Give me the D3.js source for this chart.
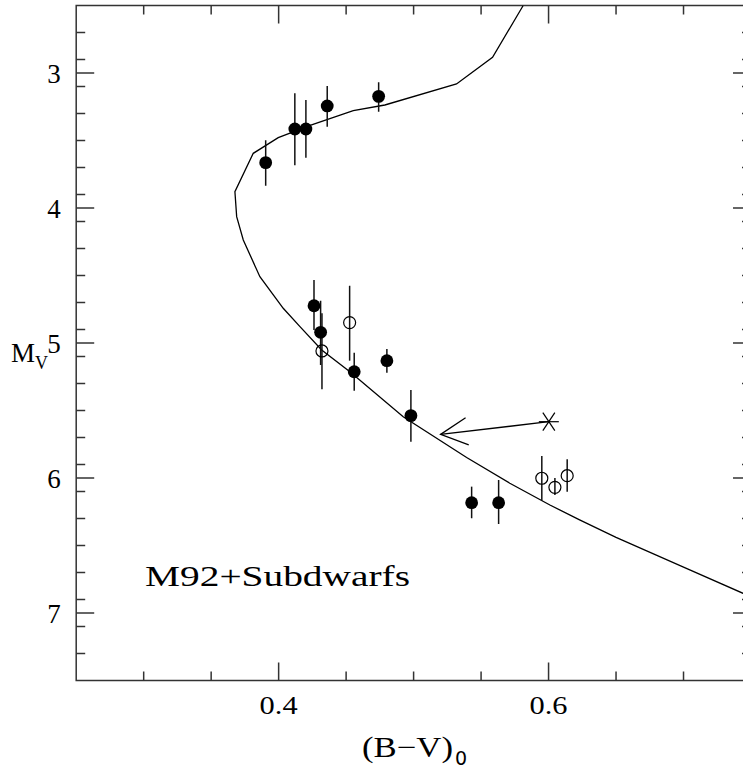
<!DOCTYPE html>
<html><head><meta charset="utf-8">
<script src="https://cdn.jsdelivr.net/npm/d3@7"></script>
<style>html,body{margin:0;padding:0;background:#fff;overflow:hidden}svg{display:block}</style>
</head><body>
<script>
// Isochrone (fiducial) line
const isoBV = [0.5812,0.5585,0.5318,0.4787,0.4553,0.4244,0.3997,0.3812,0.3676,0.3689,0.3738,0.3861,0.4034,0.4158,0.4319,0.4528,0.4923,0.5393,0.5713,0.601,0.623,0.65,0.70,0.7441,0.752];
const isoMV = [2.5,2.884,3.081,3.237,3.279,3.385,3.479,3.595,3.879,4.064,4.237,4.509,4.743,4.879,5.052,5.213,5.546,5.848,6.039,6.2,6.31,6.44,6.66,6.854,6.888];
// Filled points
const filledBV  = [0.3904,0.412,0.4202,0.436,0.4741,0.4262,0.4311,0.456,0.4802,0.498,0.543,0.563];
const filledMV  = [3.664,3.415,3.415,3.244,3.173,4.724,4.921,5.213,5.131,5.538,6.183,6.183];
const filledTop = [3.498,3.15,3.2,3.096,3.069,4.533,4.687,5.072,5.044,5.348,6.064,6.015];
const filledBot = [3.835,3.684,3.627,3.398,3.287,4.904,5.163,5.353,5.22,5.731,6.299,6.341];
// Open points
const openBV  = [0.4321,0.4526,0.595,0.6047,0.6138];
const openMV  = [5.059,4.849,6.002,6.069,5.983];
const openTop = [4.78,4.576,5.837,6.0,5.861];
const openBot = [5.343,5.131,6.168,6.126,6.101];
// Asterisk and arrow
const starBV = [0.6002], starMV = [5.583];
const arrowFrom = [0.6002,5.583], arrowTo = [0.52,5.677];
// Axes
const xDomain = [0.25,0.75], yDomain = [2.5,7.5];
const xMajor = [0.4,0.6], xMajorLabels = ["0.4","0.6"];
const yMajor = [3,4,5,6,7], yMajorLabels = ["3","4","5","6","7"];
const xMinor = [0.3,0.35,0.45,0.5,0.55,0.65,0.7];
const yMinorStep = 0.2;
const annotation = {text:"M92+Subdwarfs", bv:0.301, mv:6.80};

const W=743,H=770;
const L=76.2,R=751,T=5.5,B=680.5;
const svg=d3.select("body").append("svg").attr("width",W).attr("height",H);
const x=d3.scaleLinear().domain(xDomain).range([L,R]);
const y=d3.scaleLinear().domain(yDomain).range([T,B]);
const ink="#000", axisCol="#333";
const font="'Liberation Serif','DejaVu Serif',serif";

svg.append("defs").append("clipPath").attr("id","clip").append("rect")
  .attr("x",L).attr("y",T).attr("width",R-L).attr("height",B-T);

// frame
svg.append("rect").attr("x",L).attr("y",T).attr("width",R-L).attr("height",B-T)
  .attr("fill","none").attr("stroke",axisCol).attr("stroke-width",1.5);

const yMinor=d3.range(yDomain[0],yDomain[1]+1e-9,yMinorStep).map(v=>+v.toFixed(2)).filter(v=>!yMajor.includes(v)&&v>yDomain[0]&&v<yDomain[1]);
const tk=svg.append("g").attr("stroke",axisCol).attr("stroke-width",1.5);
const minL=9,majL=18;
xMinor.forEach(v=>{tk.append("line").attr("x1",x(v)).attr("x2",x(v)).attr("y1",B).attr("y2",B-minL);
  tk.append("line").attr("x1",x(v)).attr("x2",x(v)).attr("y1",T).attr("y2",T+minL);});
xMajor.forEach(v=>{tk.append("line").attr("x1",x(v)).attr("x2",x(v)).attr("y1",B).attr("y2",B-majL);
  tk.append("line").attr("x1",x(v)).attr("x2",x(v)).attr("y1",T).attr("y2",T+majL);});
yMinor.forEach(v=>{tk.append("line").attr("y1",y(v)).attr("y2",y(v)).attr("x1",L).attr("x2",L+minL);
  tk.append("line").attr("y1",y(v)).attr("y2",y(v)).attr("x1",R).attr("x2",R-minL);});
yMajor.forEach(v=>{tk.append("line").attr("y1",y(v)).attr("y2",y(v)).attr("x1",L).attr("x2",L+majL);
  tk.append("line").attr("y1",y(v)).attr("y2",y(v)).attr("x1",R).attr("x2",R-majL);});

// tick labels
xMajor.forEach((v,i)=>svg.append("text").attr("x",x(v)-19).attr("y",713.5)
  .attr("font-family",font).attr("font-size",26).attr("fill",ink)
  .attr("textLength",38).attr("lengthAdjust","spacingAndGlyphs").text(xMajorLabels[i]));
yMajor.forEach((v,i)=>svg.append("text").attr("x",54).attr("y",y(v)+9.5).attr("text-anchor","middle")
  .attr("font-family",font).attr("font-size",27).attr("fill",ink).text(yMajorLabels[i]));

// axis titles
svg.append("text").attr("x",362).attr("y",757).attr("font-family",font).attr("font-size",29).attr("fill",ink)
  .attr("textLength",91).attr("lengthAdjust","spacingAndGlyphs").text("(B\u2212V)");
svg.append("text").attr("x",455).attr("y",765).attr("font-family","'DejaVu Sans',sans-serif").attr("font-size",19).attr("fill",ink).text("0");
const yt=svg.append("text").attr("x",11).attr("y",362).attr("font-family",font).attr("font-size",27).attr("fill",ink);
yt.append("tspan").text("M");
yt.append("tspan").attr("dy",7).attr("font-size",18).text("V");

const plot=svg.append("g").attr("clip-path","url(#clip)");
// isochrone
plot.append("path").datum(isoBV.map((v,i)=>[v,isoMV[i]]))
  .attr("d",d3.line().x(d=>x(d[0])).y(d=>y(d[1])))
  .attr("fill","none").attr("stroke",ink).attr("stroke-width",1.3);

// error bars
const bars=plot.append("g").attr("stroke","#111").attr("stroke-width",1.5);
filledBV.forEach((v,i)=>bars.append("line").attr("x1",x(v)).attr("x2",x(v)).attr("y1",y(filledTop[i])).attr("y2",y(filledBot[i])));
openBV.forEach((v,i)=>bars.append("line").attr("x1",x(v)).attr("x2",x(v)).attr("y1",y(openTop[i])).attr("y2",y(openBot[i])));

// filled circles
plot.append("g").selectAll("circle").data(filledBV).join("circle")
  .attr("cx",d=>x(d)).attr("cy",(d,i)=>y(filledMV[i])).attr("r",6.4).attr("fill",ink);
// open circles
plot.append("g").selectAll("circle").data(openBV).join("circle")
  .attr("cx",d=>x(d)).attr("cy",(d,i)=>y(openMV[i])).attr("r",6).attr("fill","none").attr("stroke",ink).attr("stroke-width",1.2);

// asterisk
starBV.forEach((v,i)=>{
  const cx=x(v), cy=y(starMV[i]), g=plot.append("g").attr("stroke",ink).attr("stroke-width",1.2);
  g.append("line").attr("x1",cx-10).attr("x2",cx+10).attr("y1",cy).attr("y2",cy);
  g.append("line").attr("x1",cx-6).attr("x2",cx+6).attr("y1",cy-9).attr("y2",cy+9);
  g.append("line").attr("x1",cx+6).attr("x2",cx-6).attr("y1",cy-9).attr("y2",cy+9);
});

// arrow
{
  const x0=x(arrowFrom[0]), y0=y(arrowFrom[1]), x1=x(arrowTo[0]), y1=y(arrowTo[1]);
  const ang=Math.atan2(y0-y1,x0-x1), hl=30, ha=0.47;
  const g=plot.append("g").attr("stroke",ink).attr("stroke-width",1.3).attr("fill","none");
  g.append("line").attr("x1",x0).attr("y1",y0).attr("x2",x1).attr("y2",y1);
  g.append("path").attr("d",`M${x1+hl*Math.cos(ang-ha)},${y1+hl*Math.sin(ang-ha)}L${x1},${y1}L${x1+hl*Math.cos(ang+ha)},${y1+hl*Math.sin(ang+ha)}`);
}

// annotation
svg.append("text").attr("x",x(annotation.bv)).attr("y",y(annotation.mv))
  .attr("font-family",font).attr("font-size",30).attr("fill",ink)
  .attr("textLength",265).attr("lengthAdjust","spacingAndGlyphs").text(annotation.text);
</script>
</body></html>
